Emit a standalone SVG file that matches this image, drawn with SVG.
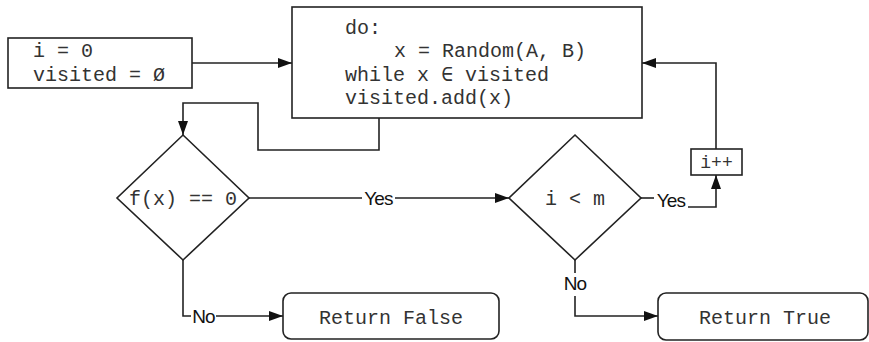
<svg xmlns="http://www.w3.org/2000/svg" width="869" height="342" viewBox="0 0 869 342">
<style>
.box{fill:#fff;stroke:#222;stroke-width:1.6}
.ln{fill:none;stroke:#222;stroke-width:1.6}
.mono{font-family:"Liberation Mono","DejaVu Sans Mono",monospace;font-size:20px;fill:#333}
.lbl{font-family:"Liberation Sans",Arial,sans-serif;font-size:19px;fill:#111;letter-spacing:-0.8px}
</style>
<defs>
<marker id="ah" viewBox="0 0 14 10" refX="14" refY="5" markerWidth="14" markerHeight="10" markerUnits="userSpaceOnUse" orient="auto">
<path d="M0,0 L14,5 L0,10 z" fill="#111"/>
</marker>
</defs>
<rect width="869" height="342" fill="#fff"/>
<g id="connectors">
<path class="ln" d="M192,63 H292" marker-end="url(#ah)"/>
<path class="ln" d="M379,118 V150 H258 V103 H183 V135" marker-end="url(#ah)"/>
<path class="ln" d="M249,198 H362 M395,198 H509" marker-end="url(#ah)"/>
<path class="ln" d="M641,198 H654"/>
<path class="ln" d="M688,207 H716 V175" marker-end="url(#ah)"/>
<path class="ln" d="M716,149 V63 H642" marker-end="url(#ah)"/>
<path class="ln" d="M183,260 V316 H191 M216,316 H283" marker-end="url(#ah)"/>
<path class="ln" d="M575,260 V273 M575,296 V316 H658" marker-end="url(#ah)"/>
<text class="lbl" x="378.5" y="205" text-anchor="middle">Yes</text>
<text class="lbl" x="671" y="207" text-anchor="middle">Yes</text>
<text class="lbl" x="203.5" y="323" text-anchor="middle">No</text>
<text class="lbl" x="575" y="290" text-anchor="middle">No</text>
</g>
<g id="init">
<rect class="box" x="8" y="38" width="184" height="50"/>
<text class="mono" x="33" y="57">i = 0</text>
<text class="mono" x="33" y="81">visited = Ø</text>
</g>
<g id="loop">
<rect class="box" x="292" y="7" width="350" height="111"/>
<text class="mono" x="345" y="34">do:</text>
<text class="mono" x="394" y="57">x = Random(A, B)</text>
<text class="mono" x="345" y="81">while x ∈ visited</text>
<text class="mono" x="345" y="104">visited.add(x)</text>
</g>
<g id="cond1">
<polygon class="box" points="183,135 249,198 183,260 117,198"/>
<text class="mono" x="183" y="205" text-anchor="middle">f(x) == 0</text>
</g>
<g id="cond2">
<polygon class="box" points="575,135 641,198 575,260 509,198"/>
<text class="mono" x="575" y="205" text-anchor="middle">i &lt; m</text>
</g>
<g id="inc">
<rect class="box" x="691" y="149" width="51" height="26"/>
<text class="mono" x="716.5" y="168" text-anchor="middle" style="font-size:18px">i++</text>
</g>
<g id="retFalse">
<rect class="box" x="283" y="293" width="216" height="46" rx="8"/>
<text class="mono" x="391" y="324" text-anchor="middle">Return False</text>
</g>
<g id="retTrue">
<rect class="box" x="658" y="293" width="210" height="47" rx="8"/>
<text class="mono" x="765" y="324" text-anchor="middle">Return True</text>
</g>
</svg>
